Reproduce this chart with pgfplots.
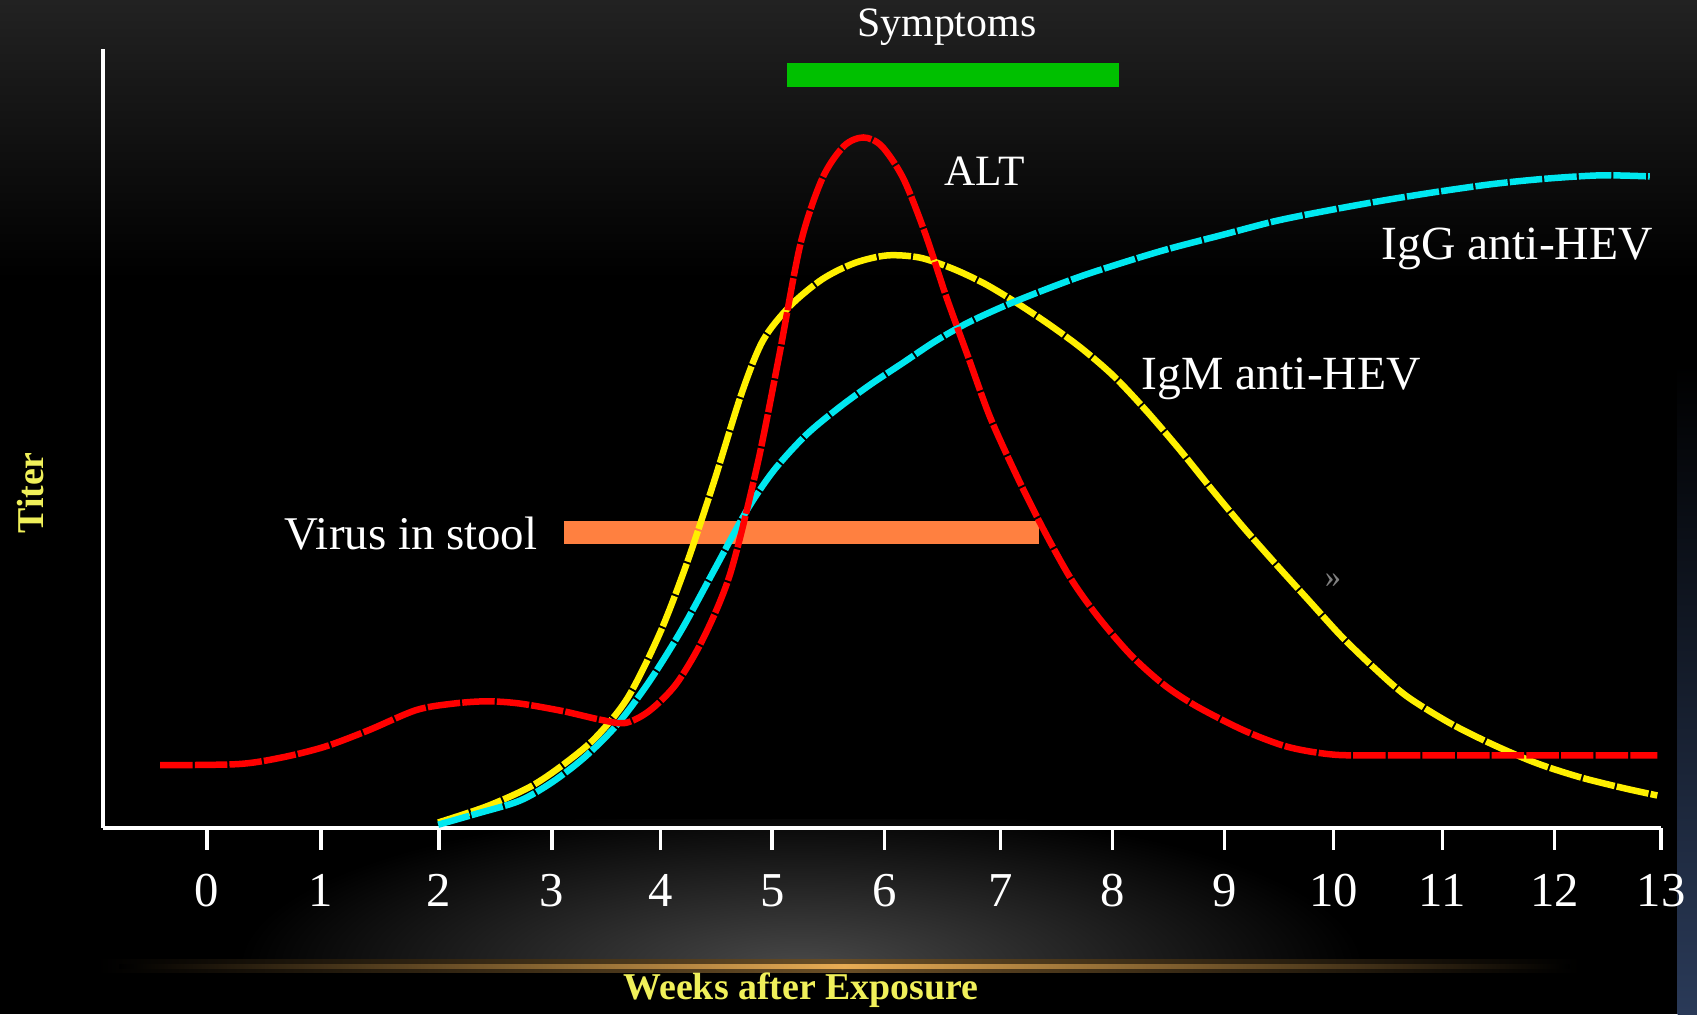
\documentclass[border=0pt]{standalone}
\usepackage{fontspec}
\setmainfont{Liberation Serif}
\usepackage{pgfplots}
\pgfplotsset{compat=1.18}
\definecolor{bgtop}{RGB}{34,34,34}
\definecolor{gold}{RGB}{232,172,84}
\definecolor{glow}{RGB}{72,72,72}
\definecolor{lblyellow}{RGB}{240,240,90}
\definecolor{sympgreen}{RGB}{0,192,0}
\definecolor{virusorange}{RGB}{255,128,64}
\definecolor{igg}{RGB}{0,232,240}
\definecolor{igm}{RGB}{255,240,0}
\definecolor{alt}{RGB}{255,0,0}
\definecolor{navy}{RGB}{42,58,88}

\begin{document}
\begin{tikzpicture}
\begin{scope}[x=0.3pt,y=0.3pt]
\fill[black] (0,0) rectangle (1568,937);
\shade[top color=bgtop,bottom color=black] (0,937) rectangle (1568,680);
\begin{scope}
\clip (0,44) rectangle (1568,180);
\shade[inner color=glow,outer color=black] (740,44) ellipse (520 and 150);
\end{scope}
\shade[left color=black,right color=black,middle color=gold!45!black] (90,38) rectangle (1460,50);
\shade[left color=black,right color=black,middle color=gold] (110,42) rectangle (1450,46);
\shade[top color=black,bottom color=navy] (1550,600) rectangle (1568,0);
\end{scope}

\begin{axis}[
  at={(28.5pt,51.6pt)}, anchor=south west,
  scale only axis, width=432pt, height=216pt,
  xmin=-0.94, xmax=13.02, ymin=0, ymax=720,
  axis x line=bottom, axis y line=left,
  axis line style={white, line width=1pt, -},
  xtick={-0.007,1.014,2.070,3.081,4.057,5.056,6.063,7.102,8.105,9.108,10.083,11.059,12.062,13.019},
  xticklabels={0,1,2,3,4,5,6,7,8,9,10,11,12,13},
  ytick=\empty,
  tick align=outside, major tick length=6pt,
  tick style={white, line width=1pt},
  /pgf/number format/assume math mode=true,
  xticklabel style={white, font=\fontsize{13.5}{15}\selectfont, yshift=-3.4pt},
  xlabel={Weeks after Exposure},
  xlabel style={at={(axis description cs:0.448,-0.208)}, anchor=center,
    text=lblyellow, font=\bfseries\fontsize{10.5}{12}\selectfont},
  ylabel={Titer},
  ylabel style={at={(axis description cs:-0.0465,0.43)}, anchor=center,
    text=lblyellow, font=\bfseries\fontsize{10.5}{12}\selectfont},
  clip=false,
  every axis plot/.append style={line width=1.8pt, dash pattern=on 9pt off 0.6pt},
]
% bars
\addplot[sympgreen, line width=6.6pt, solid, line cap=butt] coordinates {(5.19,696) (8.16,696)};
\addplot[virusorange, line width=6.6pt, solid, line cap=butt] coordinates {(3.19,273) (7.45,273)};

% IgM anti-HEV
\addplot[igm, smooth] coordinates {
(2.064,5) (2.500,20) (2.888,38) (3.178,58) (3.469,83) (3.760,120) (4.050,180)
(4.293,245) (4.535,320) (4.777,400) (4.971,450) (5.213,482) (5.504,507)
(5.795,522) (6.085,529) (6.376,527) (6.667,517) (6.957,503) (7.248,485)
(7.539,465) (7.829,443) (8.120,417) (8.411,385) (8.702,350) (8.992,313)
(9.283,277) (9.574,243) (9.864,210) (10.155,177) (10.446,148) (10.736,122)
(11.124,97) (11.512,77) (11.899,60) (12.287,47) (12.674,37) (12.984,30)};

% IgG anti-HEV
\addplot[igg, smooth] coordinates {
(2.064,3) (2.403,13) (2.791,25) (3.081,42) (3.372,65) (3.663,95) (3.953,135)
(4.244,183) (4.535,238) (4.826,293) (5.068,330) (5.358,363) (5.649,388)
(5.940,410) (6.231,430) (6.521,450) (6.812,467) (7.151,483) (7.490,497)
(7.829,510) (8.217,523) (8.605,535) (9.089,548) (9.574,561) (10.058,571)
(10.543,580) (11.027,588) (11.512,595) (11.996,600) (12.481,603) (12.917,602)};

% ALT
\addplot[alt, smooth] coordinates {
(-0.426,58) (0.271,59) (0.659,65) (1.047,75) (1.434,90) (1.870,109) (2.209,115)
(2.500,117) (2.791,115) (3.178,108) (3.517,100) (3.740,97) (3.953,108)
(4.196,133) (4.438,175) (4.680,235) (4.922,335) (5.116,435) (5.310,540)
(5.504,600) (5.698,630) (5.872,638) (6.037,630) (6.231,600) (6.424,550)
(6.618,490) (6.812,435) (7.006,380) (7.248,325) (7.490,275) (7.733,230)
(7.975,195) (8.266,160) (8.556,133) (8.847,113) (9.283,90) (9.671,75)
(10.058,68) (10.446,67) (11.705,67) (12.984,67)};

% labels
\node[white, font=\fontsize{11.6}{13}\selectfont] at (axis cs:6.62,740) {Symptoms};
\node[white, font=\fontsize{12}{13}\selectfont] at (axis cs:6.96,607) {ALT};
\node[white, font=\fontsize{13.2}{15}\selectfont, anchor=east, inner sep=0pt] at (axis cs:12.95,535) {IgG anti-HEV};
\node[white, font=\fontsize{13.2}{15}\selectfont, anchor=west, inner sep=0pt] at (axis cs:8.36,415) {IgM anti-HEV};
\node[white, font=\fontsize{13}{15}\selectfont, anchor=east, inner sep=0pt] at (axis cs:2.96,272) {Virus in stool};
\node[gray, font=\fontsize{9}{10}\selectfont] at (axis cs:10.08,228) {»};
\end{axis}
\pgfresetboundingbox
\useasboundingbox (0,0) rectangle (470.4pt,281.1pt);
\end{tikzpicture}
\end{document}
